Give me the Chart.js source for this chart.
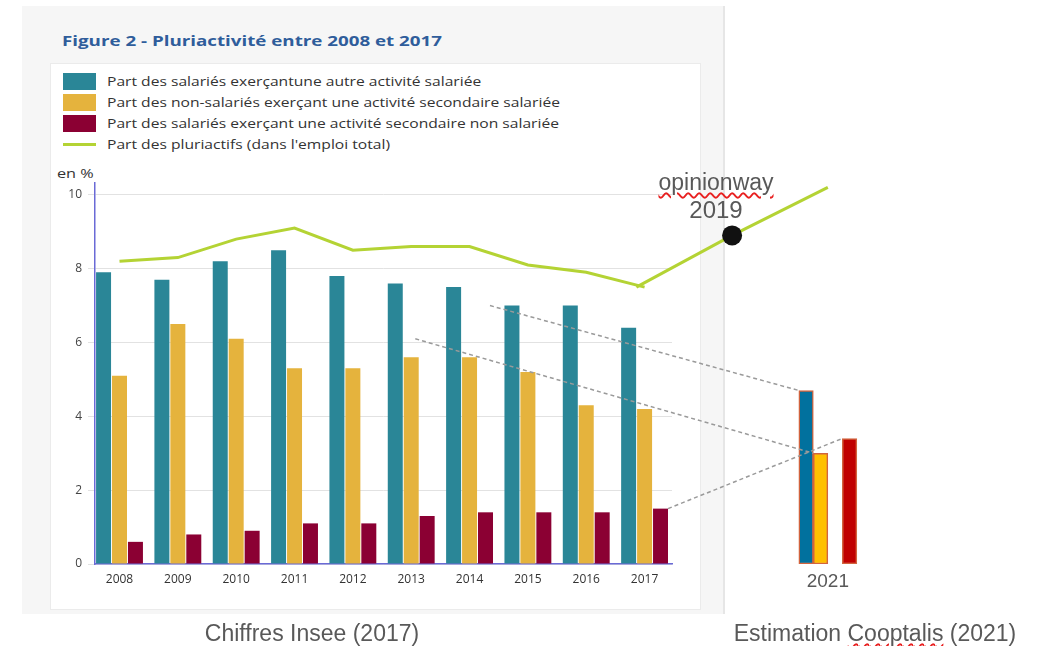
<!DOCTYPE html>
<html lang="fr">
<head>
<meta charset="utf-8">
<title>Pluriactivité entre 2008 et 2017</title>
<script src="https://cdn.jsdelivr.net/npm/chart.js@4.4.1/dist/chart.umd.min.js"></script>
<style>
  body { margin: 0; width: 1043px; height: 646px; overflow: hidden; background: #fff; position: relative; font-family: 'Open Sans', sans-serif; }
  #cadre { position: absolute; left: 22px; top: 6px; width: 701px; height: 608px; background: #f6f6f6; border-right: 2px solid #e6e6e6; }
  #boite { position: absolute; left: 50px; top: 63px; width: 649px; height: 545px; background: #fff; border: 1px solid #ebebeb; }
  .large { display: inline-block; transform: scaleX(1.25); transform-origin: left center; }
  #titre { position: absolute; left: 62px; top: 33px; font-size: 15px; line-height: 15px; font-weight: bold; color: #2f5d9b; white-space: nowrap; }
  #legende { position: absolute; left: 63px; top: 71px; margin: 0; padding: 0; list-style: none; }
  #legende li { height: 21px; display: flex; align-items: center; font-size: 12.5px; color: #333; white-space: nowrap; }
  #legende .boite { width: 33px; height: 17px; margin-right: 11px; }
  #legende .trait { width: 33px; height: 3px; margin: 7px 11px 7px 0; }
  #unite { position: absolute; left: 57px; top: 166px; font-size: 13px; line-height: 14px; color: #333; }
  canvas { position: absolute; left: 0; top: 0; }
  .note { position: absolute; font-family: 'Liberation Sans', Arial, sans-serif; color: #595959; text-align: center; white-space: nowrap; line-height: 1; }
  .faute { text-decoration: underline wavy #e82020; text-decoration-thickness: 1.5px; text-underline-offset: 2px; }
  #opinion { left: 616px; width: 200px; top: 171px; font-size: 23px; }
  #an2019 { left: 616px; width: 200px; top: 198px; font-size: 24px; }
  #src1 { left: 162px; width: 300px; top: 622px; font-size: 23px; }
  #src2 { left: 725px; width: 300px; top: 622px; font-size: 23px; }
</style>
</head>
<body>
<div id="cadre"></div>
<div id="boite"></div>
<div id="titre"><span class="large">Figure 2 - Pluriactivité entre 2008 et 2017</span></div>
<ul id="legende"></ul>
<div id="unite"><span class="large">en %</span></div>
<canvas id="graphique" width="1043" height="646"></canvas>
<canvas id="estimation" width="1043" height="646"></canvas>
<div class="note" id="opinion"><span class="faute">opinionway</span></div>
<div class="note" id="an2019">2019</div>
<div class="note" id="src1">Chiffres Insee (2017)</div>
<div class="note" id="src2">Estimation <span class="faute">Cooptalis</span> (2021)</div>

<script>
// Données Insee 2008-2017 (en %)
const annees = [2008, 2009, 2010, 2011, 2012, 2013, 2014, 2015, 2016, 2017];
const salariesAutreSalariee = [7.9, 7.7, 8.2, 8.5, 7.8, 7.6, 7.5, 7.0, 7.0, 6.4];
const nonSalariesSalariee = [5.1, 6.5, 6.1, 5.3, 5.3, 5.6, 5.6, 5.2, 4.3, 4.2];
const salariesNonSalariee = [0.6, 0.8, 0.9, 1.1, 1.1, 1.3, 1.4, 1.4, 1.4, 1.5];
const pluriactifs = [8.2, 8.3, 8.8, 9.1, 8.5, 8.6, 8.6, 8.1, 7.9, 7.5];

// Prolongement (opinionway 2019, estimation Cooptalis 2021)
const anneesProjection = [2017, 2019, 2021];
const pluriactifsProjection = [7.5, 8.9, 10.2];
const annee2021 = 2021;
const estimation2021 = [4.7, 3.0, 3.4];

const yTicks = [0, 2, 4, 6, 8, 10];

const libelles = [
  'Part des salariés exerçantune autre activité salariée',
  'Part des non-salariés exerçant une activité secondaire salariée',
  'Part des salariés exerçant une activité secondaire non salariée',
  'Part des pluriactifs (dans l\'emploi total)'
];

const couleurs = ['#2a8697', '#e5b33d', '#8b0033', '#b4d334'];
const couleurs2021 = ['#01719e', '#ffc000', '#c00000'];

const points = (xs, ys) => xs.map((v, i) => ({ x: v, y: ys[i] }));

// ---- graphique Insee ----
const config = {
  data: {
    datasets: [
      { type: 'bar', label: libelles[0], data: points(annees, salariesAutreSalariee), backgroundColor: couleurs[0], order: 1 },
      { type: 'bar', label: libelles[1], data: points(annees, nonSalariesSalariee), backgroundColor: couleurs[1], order: 1 },
      { type: 'bar', label: libelles[2], data: points(annees, salariesNonSalariee), backgroundColor: couleurs[2], order: 1 },
      { type: 'line', label: libelles[3], data: points(annees, pluriactifs), borderColor: couleurs[3], backgroundColor: couleurs[3],
        borderWidth: 3, pointRadius: 0, tension: 0, order: 0 }
    ]
  },
  options: {
    responsive: false,
    animation: false,
    devicePixelRatio: 1,
    events: [],
    layout: { padding: { left: 60, top: 183, right: 371, bottom: 52 } },
    datasets: { bar: { barPercentage: 0.94, categoryPercentage: 0.82 } },
    plugins: { legend: { display: false }, tooltip: { enabled: false } },
    scales: {
      x: {
        type: 'linear', min: 2007.58, max: 2017.47, offset: false,
        grid: { display: false, drawTicks: false },
        border: { display: true, color: '#6a6ad6', width: 1.5 },
        ticks: { stepSize: 1, includeBounds: false, maxRotation: 0, padding: 8, color: '#333',
                 font: { family: 'Open Sans', size: 12 }, callback: v => String(v) },
        afterFit: s => { s.height = 30; }
      },
      y: {
        min: 0, max: 10.32,
        grid: { color: '#e2e2e2', tickLength: 7 },
        border: { color: '#6a6ad6', width: 1.5 },
        afterBuildTicks: s => { s.ticks = yTicks.map(v => ({ value: v })); },
        ticks: { padding: 6, color: '#444', font: { family: 'Open Sans', size: 12 } },
        afterFit: s => { s.width = 35; }
      }
    }
  }
};

const myChart = new Chart(document.getElementById('graphique'), config);

// ---- estimation 2021 et prolongement ----
const barres2021 = {
  type: 'bar',
  barThickness: 14.5,
  borderColor: '#d2643e',
  borderWidth: 1.5,
  borderSkipped: false,
  order: 1
};

const pointilles = {
  id: 'pointilles',
  afterDatasetsDraw(chart) {
    const ctx = chart.ctx;
    const x = myChart.scales.x, y = myChart.scales.y;
    const haut = i => {
      const b = chart.getDatasetMeta(i).data[0];
      return [b.x - b.width / 2, b.y];
    };
    const m = myChart.getDatasetMeta(2).data[annees.length - 1];
    const traits = [
      [[x.getPixelForValue(2014.35), y.getPixelForValue(7.0)], haut(1)],
      [[x.getPixelForValue(2013.07), y.getPixelForValue(6.1)], haut(2)],
      [[m.x + m.width / 2, m.y], haut(4)]
    ];
    ctx.save();
    ctx.setLineDash([4, 3]);
    ctx.strokeStyle = '#9a9a9a';
    ctx.lineWidth = 1.5;
    traits.forEach(function (t) {
      ctx.beginPath();
      ctx.moveTo(t[0][0], t[0][1]);
      ctx.lineTo(t[1][0], t[1][1]);
      ctx.stroke();
    });
    ctx.restore();
  }
};

const config2 = {
  data: {
    datasets: [
      { type: 'line', label: 'prolongement', data: points(anneesProjection, pluriactifsProjection),
        borderColor: couleurs[3], borderWidth: 3, pointRadius: [0, 10, 0], pointBackgroundColor: '#111',
        pointBorderWidth: 0, tension: 0, clip: false, order: 0 },
      Object.assign({ label: libelles[0], data: [{ x: annee2021, y: estimation2021[0] }], backgroundColor: couleurs2021[0] }, barres2021),
      Object.assign({ label: libelles[1], data: [{ x: annee2021, y: estimation2021[1] }], backgroundColor: couleurs2021[1] }, barres2021),
      Object.assign({ label: '', data: [], backgroundColor: 'transparent' }, barres2021),
      Object.assign({ label: libelles[2], data: [{ x: annee2021, y: estimation2021[2] }], backgroundColor: couleurs2021[2] }, barres2021)
    ]
  },
  plugins: [pointilles],
  options: {
    responsive: false,
    animation: false,
    devicePixelRatio: 1,
    events: [],
    layout: { padding: { left: 600, top: 183, right: 163, bottom: 52 } },
    plugins: { legend: { display: false }, tooltip: { enabled: false } },
    scales: {
      x: {
        type: 'linear', min: 2016.24, max: 2022.09, offset: false,
        grid: { display: false, drawTicks: false },
        border: { display: false },
        afterBuildTicks: s => { s.ticks = [{ value: annee2021 }]; },
        ticks: { padding: 6, color: '#595959', font: { family: 'Liberation Sans', size: 19 }, callback: v => String(v) },
        afterFit: s => { s.height = 30; }
      },
      y: { display: false, min: 0, max: 10.32 }
    }
  }
};

const chart2021 = new Chart(document.getElementById('estimation'), config2);

// légende HTML construite depuis les séries du graphique Insee
const legende = document.getElementById('legende');
myChart.data.datasets.forEach(function (ds) {
  const li = document.createElement('li');
  const marque = document.createElement('span');
  marque.className = ds.type === 'line' ? 'trait' : 'boite';
  marque.style.background = ds.type === 'line' ? ds.borderColor : ds.backgroundColor;
  const texte = document.createElement('span');
  texte.className = 'large';
  texte.textContent = ds.label;
  li.appendChild(marque);
  li.appendChild(texte);
  legende.appendChild(li);
});
</script>
</body>
</html>
